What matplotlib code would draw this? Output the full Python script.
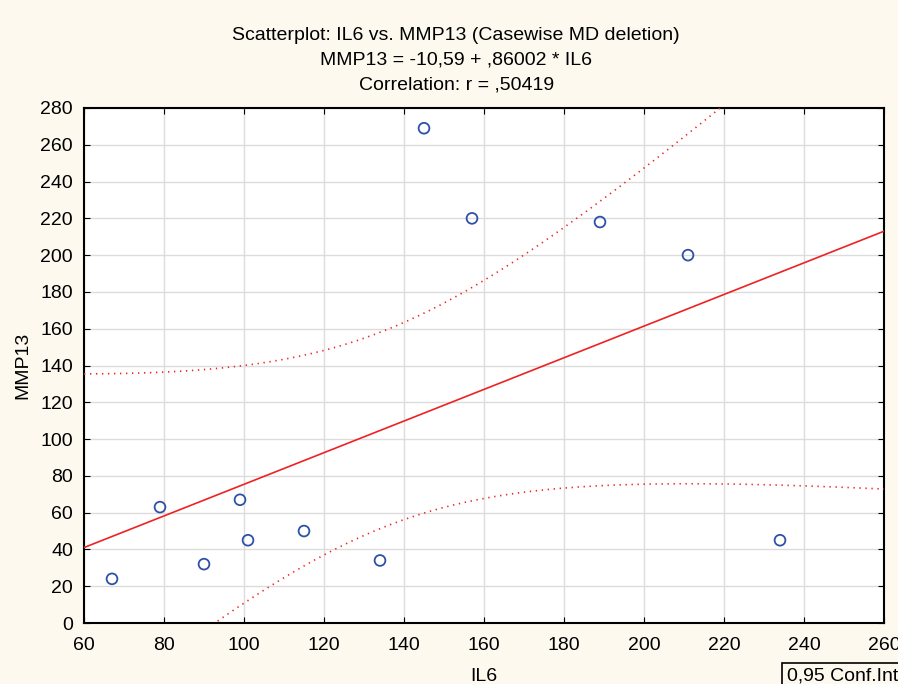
import numpy as np
import matplotlib.pyplot as plt

plt.rcParams['font.family'] = ['Liberation Sans', 'DejaVu Sans']

# IL6 / MMP13 values
il6 = [67, 79, 90, 99, 101, 115, 134, 145, 157, 189, 211, 234]
mmp13 = [24, 63, 32, 67, 45, 50, 34, 269, 220, 218, 200, 45]
x_ticks = [60, 80, 100, 120, 140, 160, 180, 200, 220, 240, 260]
y_ticks = list(range(0, 281, 20))

x = np.array(il6, dtype=float)
y = np.array(mmp13, dtype=float)
n = len(x)
b, a = np.polyfit(x, y, 1)
resid = y - (a + b * x)
s = np.sqrt(np.sum(resid ** 2) / (n - 2))
t = 2.228  # t(0.975, 10)

xs = np.linspace(60, 260, 300)
fit = a + b * xs
se = s * np.sqrt(1.0 / n + (xs - x.mean()) ** 2 / np.sum((x - x.mean()) ** 2))

fig = plt.figure(figsize=(8.98, 6.84), dpi=100, facecolor='#fdf9ef')
ax = fig.add_axes([84 / 898, 1 - 623 / 684, 800 / 898, 515 / 684])
ax.set_facecolor('white')

ax.plot(xs, fit, color='#ee2222', lw=1.2, zorder=3)
ax.plot(xs, fit + t * se, color='#ee2222', lw=1.2, ls=(0, (0.8, 2.8)), zorder=3)
ax.plot(xs, fit - t * se, color='#ee2222', lw=1.2, ls=(0, (0.8, 2.8)), zorder=3)
ax.scatter(il6, mmp13, s=60, facecolors='none', edgecolors='#3050a8', linewidths=1.3, zorder=4)

ax.set_xlim(60, 260)
ax.set_ylim(0, 280)
ax.set_xticks(x_ticks)
ax.set_yticks(y_ticks)
ax.grid(True, color='#dcdcdc', lw=1)
ax.set_axisbelow(True)
ax.tick_params(direction='in', length=4, labelsize=14, top=True, right=True)
ax.tick_params(axis='x', pad=10)
ax.tick_params(axis='y', pad=8)
for sp in ax.spines.values():
    sp.set_linewidth(1.5)

ax.set_xlabel('IL6', fontsize=14, labelpad=10)
ax.set_ylabel('MMP13', fontsize=14, labelpad=6)

fig.text(0.508, 1 - 35 / 684, 'Scatterplot: IL6 vs. MMP13 (Casewise MD deletion)',
         ha='center', va='center', fontsize=14)
fig.text(0.508, 1 - 60 / 684, 'MMP13 = -10,59 + ,86002 * IL6', ha='center', va='center', fontsize=14)
fig.text(0.508, 1 - 85 / 684, 'Correlation: r = ,50419', ha='center', va='center', fontsize=14)

fig.text(787 / 898, 1 - 676 / 684, '0,95 Conf.Int', ha='left', va='center', fontsize=14,
         bbox=dict(boxstyle='square,pad=0.25', facecolor='none', edgecolor='black', lw=1.2))

fig.savefig('out.png', dpi=100, facecolor=fig.get_facecolor())
